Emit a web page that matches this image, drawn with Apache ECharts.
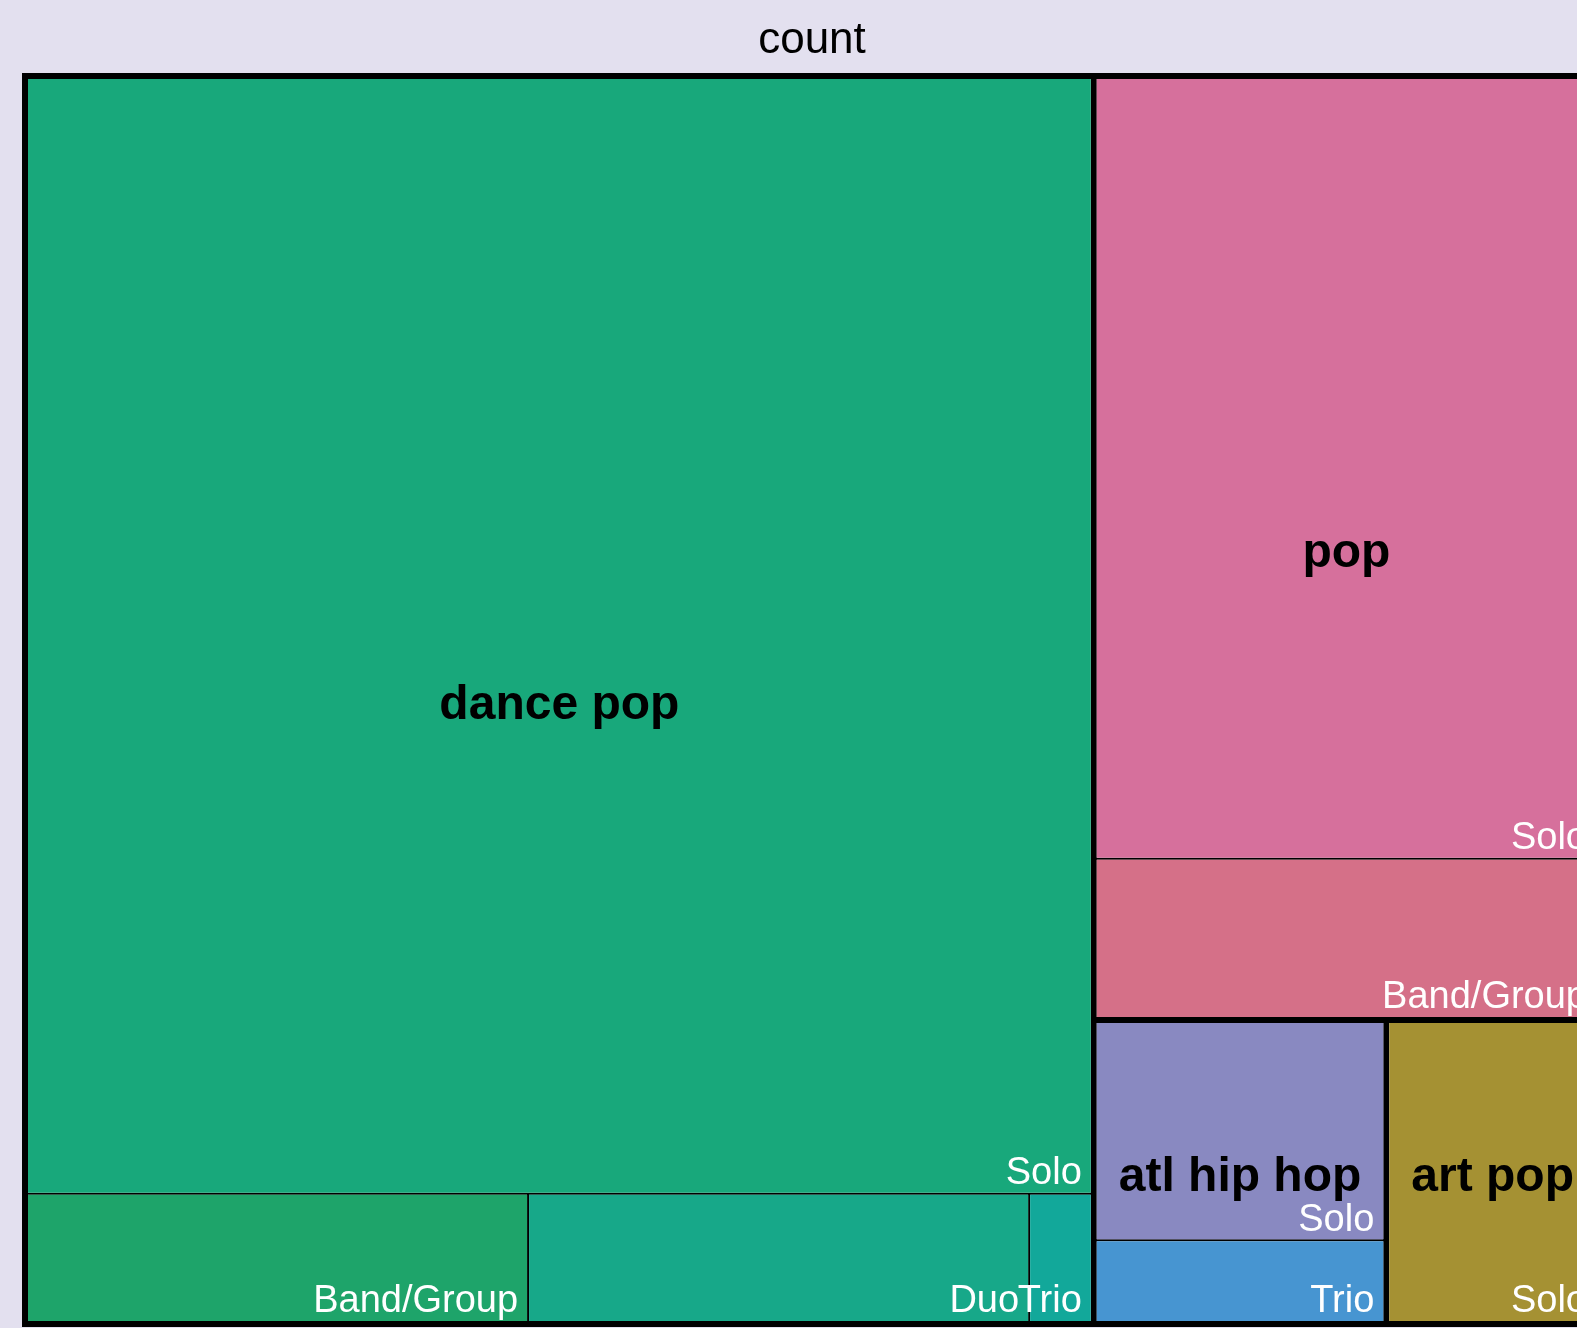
<!DOCTYPE html>
<html>
<head>
    <meta charset="utf-8">
    <title>treemap</title>
    <style type="text/css">
        * {
            margin: 0;
            padding: 0;
        }

        html, body {
            background: #e3e0ef;
        }

        #chart {
            width: 1577px;
            height: 1328px;
        }
    </style>
</head>
<body>

<div id="chart"></div>

<script src="https://cdn.jsdelivr.net/npm/echarts@6/dist/echarts.min.js"></script>
<script type="text/javascript">

    // genres and the artist types inside each one
    const genres = ['dance pop', 'pop', 'atl hip hop', 'art pop'];
    const artistTypes = [
        ['Solo', 'Band/Group', 'Duo', 'Trio'],
        ['Solo', 'Band/Group'],
        ['Solo', 'Trio'],
        ['Solo']
    ];
    const counts = [
        [148, 8, 8, 1],
        [49, 10],
        [8, 3],
        [8]
    ];

    // fill of each cell, same shape as counts
    const cellColors = [
        ['#18a87b', '#1ea46a', '#17a889', '#12a89a'],
        ['#d6709c', '#d57088'],
        ['#8989c1', '#4795d1'],
        ['#a59133']
    ];

    const fontFamily = '"Liberation Sans", Arial, sans-serif';
    const box = {left: 22, top: 73, width: 1580, height: 1254};   // runs past the right edge, like the original

    let leafData = genres.map(function (g, i) {
        return {
            name: g,
            children: artistTypes[i].map(function (t, j) {
                return {
                    name: t,
                    value: counts[i][j],
                    itemStyle: {color: cellColors[i][j]}
                };
            })
        };
    });

    // second series only carries the genre names, centred on each genre block
    let genreData = genres.map(function (g, i) {
        return {
            name: g,
            value: counts[i].reduce(function (a, b) { return a + b; }, 0)
        };
    });

    let myChart = echarts.init(document.getElementById('chart'));

    let option = {
        backgroundColor: '#e3e0ef',
        animation: false,
        title: {
            text: 'count',
            left: 807,
            top: 14,
            textAlign: 'center',
            textStyle: {
                fontFamily: fontFamily,
                fontSize: 44,
                fontWeight: 'normal',
                color: '#000'
            }
        },
        series: [
            {
                type: 'treemap',
                left: box.left,
                top: box.top,
                width: box.width,
                height: box.height,
                roam: false,
                nodeClick: false,
                sort: false,
                squareRatio: 1,
                breadcrumb: {show: false},
                upperLabel: {show: false},
                label: {
                    show: true,
                    position: 'insideBottomRight',
                    distance: 2,
                    padding: [0, 7, 0, 0],
                    lineHeight: 34,
                    overflow: 'none',
                    color: '#fff',
                    fontFamily: fontFamily,
                    fontSize: 38
                },
                levels: [
                    {itemStyle: {borderWidth: 3, borderColor: '#000', gapWidth: 0}},
                    {itemStyle: {borderWidth: 3, borderColor: '#000', gapWidth: 2}},
                    {itemStyle: {borderWidth: 0, gapWidth: 0}}
                ],
                data: leafData
            },
            {
                type: 'treemap',
                z: 10,
                left: box.left,
                top: box.top,
                width: box.width,
                height: box.height,
                roam: false,
                nodeClick: false,
                sort: false,
                squareRatio: 1,
                silent: true,
                breadcrumb: {show: false},
                label: {
                    show: true,
                    position: 'inside',
                    offset: [0, 6],
                    overflow: 'none',
                    color: '#000',
                    fontFamily: fontFamily,
                    fontSize: 48,
                    fontWeight: 'bold'
                },
                itemStyle: {
                    color: 'rgba(0,0,0,0)',
                    borderColor: 'rgba(0,0,0,0)'
                },
                levels: [
                    {itemStyle: {borderWidth: 3, borderColor: 'rgba(0,0,0,0)', gapWidth: 0}},
                    {itemStyle: {borderWidth: 3, borderColor: 'rgba(0,0,0,0)', color: 'rgba(0,0,0,0)'}}
                ],
                data: genreData
            }
        ]
    };

    myChart.setOption(option);
</script>
</body>
</html>
